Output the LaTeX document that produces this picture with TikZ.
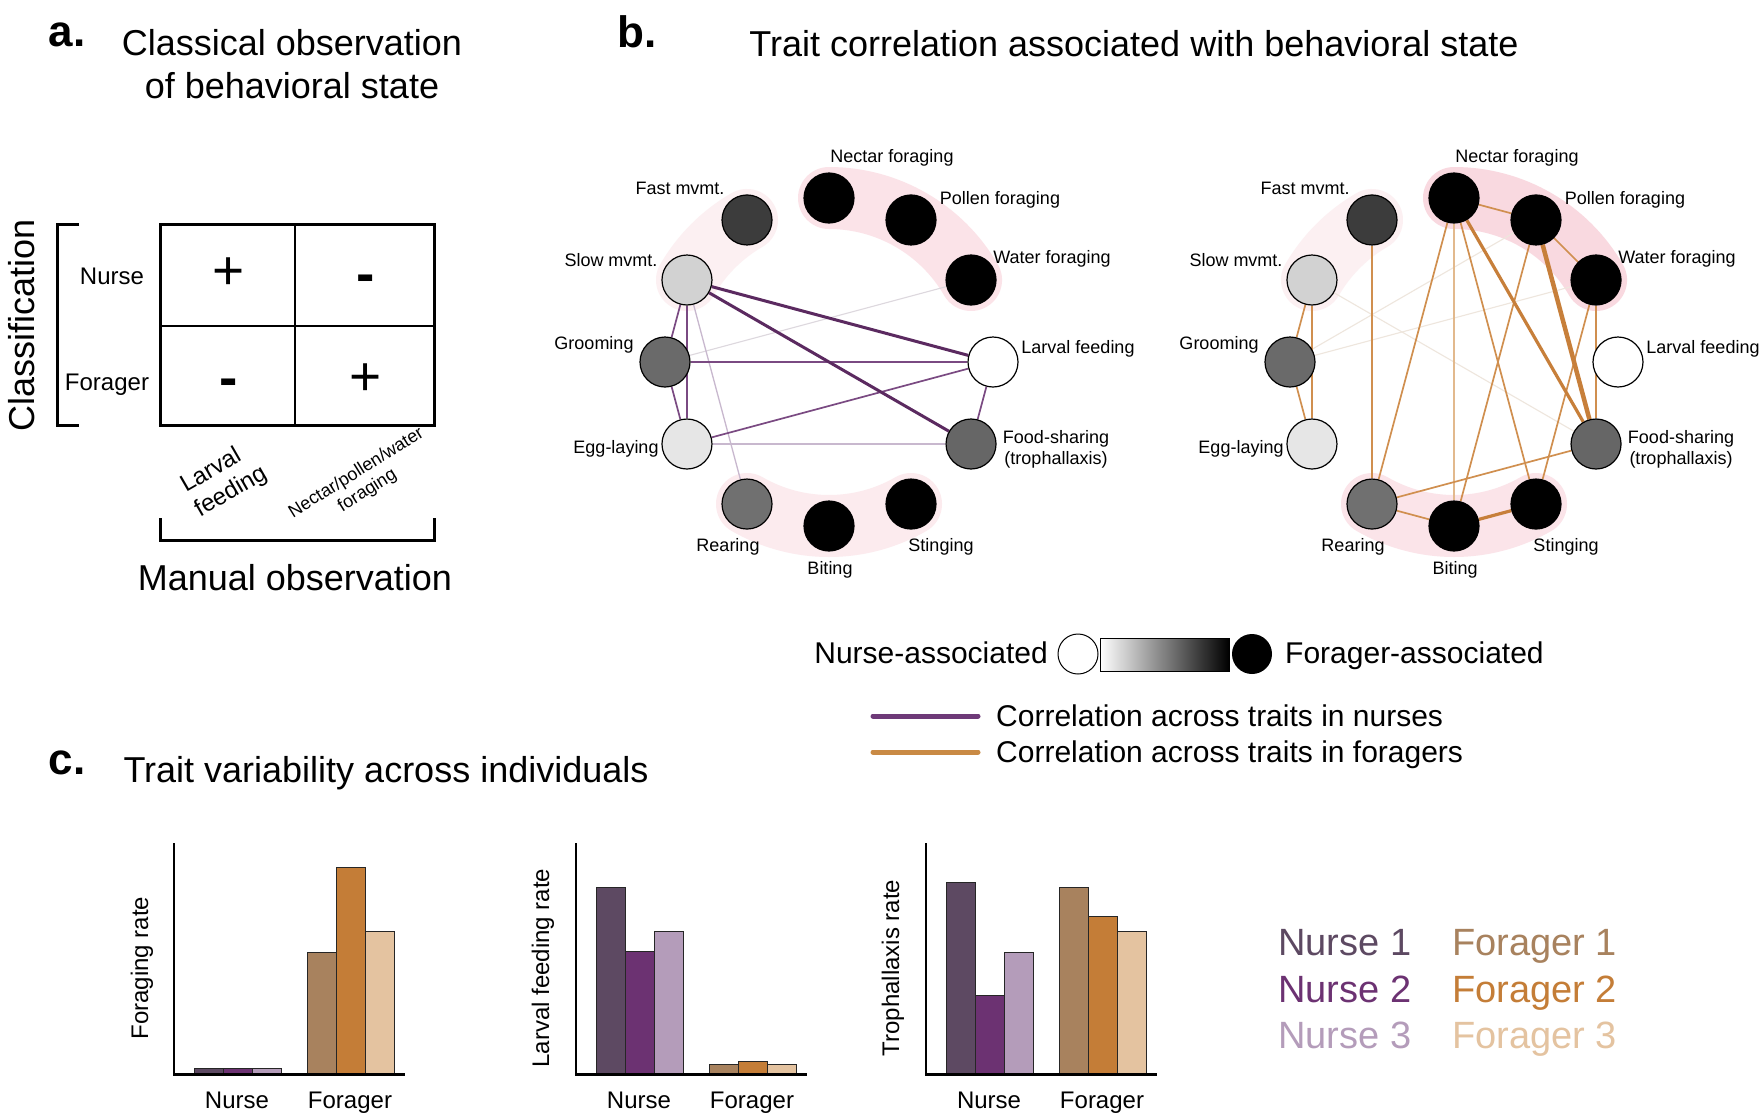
\documentclass[tikz,border=0pt]{standalone}
\usepackage{fontspec}
\setmainfont{Liberation Sans}
\definecolor{bandFL}{HTML}{FBE3E8}
\definecolor{bandFR}{HTML}{F9D9E0}
\definecolor{bandM}{HTML}{FCF0F2}
\definecolor{bandAL}{HTML}{FCEBEE}
\definecolor{bandAR}{HTML}{FBE4E9}
\definecolor{purpThick}{HTML}{5B2A60}
\definecolor{purpMed}{HTML}{7A4A82}
\definecolor{purpThin}{HTML}{C8B8CE}
\definecolor{purpFaint}{HTML}{DDD8DE}
\definecolor{orMain}{HTML}{C77F3A}
\definecolor{orMed}{HTML}{D08F4F}
\definecolor{orThin}{HTML}{E2B98D}
\definecolor{orFaint}{HTML}{EEE6DD}
\definecolor{legPurp}{HTML}{6E3A78}
\definecolor{legOr}{HTML}{C98A45}
\definecolor{nurseA}{HTML}{5D4962}
\definecolor{nurseB}{HTML}{6C3272}
\definecolor{nurseC}{HTML}{B49CBA}
\definecolor{forA}{HTML}{A8825E}
\definecolor{forB}{HTML}{C47D37}
\definecolor{forC}{HTML}{E4C3A0}
\definecolor{gFast}{HTML}{3C3C3C}
\definecolor{gSlow}{HTML}{D2D2D2}
\definecolor{gGroom}{HTML}{6A6A6A}
\definecolor{gEgg}{HTML}{E6E6E6}
\definecolor{gFood}{HTML}{666666}
\definecolor{gRear}{HTML}{707070}
\newcommand{\myTitle}{\fontsize{36}{43}\selectfont}
\newcommand{\myLegC}{\fontsize{38}{45}\selectfont}
\newcommand{\myPanel}{\fontsize{44}{44}\selectfont\bfseries}
\newcommand{\myLab}{\fontsize{18}{21}\selectfont}
\newcommand{\myMid}{\fontsize{24}{28}\selectfont}
\newcommand{\myLeg}{\fontsize{30}{36}\selectfont}
\newcommand{\mySym}{\fontsize{55}{55}\selectfont}
\pgfdeclarelayer{bandlayer}
\pgfdeclarelayer{edgelayer}
\pgfsetlayers{bandlayer,edgelayer,main}
\tikzset{
  trait/.style={circle, draw=black, line width=1.2pt, minimum size=50pt, inner sep=0pt},
  lab/.style={inner sep=0pt, anchor=base, font=\myLab},
  band/.style={line width=62pt, line cap=round},
  pthick/.style={purpThick, line width=3pt},
  pmed/.style={purpMed, line width=1.7pt},
  pthin/.style={purpThin, line width=1.3pt},
  pfaint/.style={purpFaint, line width=1.1pt},
  othickest/.style={orMain, line width=4.5pt},
  othick/.style={orMain, line width=3.2pt},
  omed/.style={orMed, line width=1.7pt},
  othin/.style={orThin, line width=1.3pt},
  ofaint/.style={orFaint, line width=1.1pt},
  bar/.style={draw=black!85, line width=0.9pt},
  txt/.style={inner sep=0pt}
}
\newcommand{\myNet}[3]{%
  \node[trait,fill=black] (#1nectar) at (270:164) {};
  \node[trait,fill=black] (#1pollen) at (300:164) {};
  \node[trait,fill=black] (#1water) at (330:164) {};
  \node[trait,fill=white] (#1larval) at (0:164) {};
  \node[trait,fill=gFood] (#1food) at (30:164) {};
  \node[trait,fill=black] (#1sting) at (60:164) {};
  \node[trait,fill=black] (#1bite) at (90:164) {};
  \node[trait,fill=gRear] (#1rear) at (120:164) {};
  \node[trait,fill=gEgg] (#1egg) at (150:164) {};
  \node[trait,fill=gGroom] (#1groom) at (180:164) {};
  \node[trait,fill=gSlow] (#1slow) at (210:164) {};
  \node[trait,fill=gFast] (#1fast) at (240:164) {};
  \node[lab] (#1nectarT) at (63,-200) {Nectar foraging};
  \node[lab] (#1fastT) at (-149,-168) {Fast mvmt.};
  \node[lab] (#1pollenT) at (171,-158) {Pollen foraging};
  \node[lab] (#1waterT) at (223,-99) {Water foraging};
  \node[lab] (#1slowT) at (-218,-96) {Slow mvmt.};
  \node[lab] (#1groomT) at (-235,-13) {Grooming};
  \node[lab] (#1larvalT) at (249,-9) {Larval feeding};
  \node[lab] (#1eggT) at (-213,91) {Egg-laying};
  \node[txt, font=\myLab, align=center] (#1foodT) at (227,87) {Food-sharing\\(trophallaxis)};
  \node[lab] (#1rearT) at (-101,189) {Rearing};
  \node[lab] (#1biteT) at (1,212) {Biting};
  \node[lab] (#1stingT) at (112,189) {Stinging};
  \begin{pgfonlayer}{bandlayer}
    \draw[band, #2] (270:164) arc[start angle=270, end angle=330, radius=164];
    \draw[band, bandM] (210:164) arc[start angle=210, end angle=240, radius=164];
    \draw[band, #3] (60:164) arc[start angle=60, end angle=120, radius=164];
  \end{pgfonlayer}
}
\newcommand{\myBar}[3]{\draw[bar, fill=#3] (#1,#2) rectangle ({#1+29},1074);}
\begin{document}
\begin{tikzpicture}[x=1pt,y=-1pt]
\useasboundingbox (0,0) rectangle (1764,1119);
\begin{pgfonlayer}{bandlayer}
\fill[white] (0,0) rectangle (1764,1119);
\end{pgfonlayer}

% ---------------- panel a
\node[txt, font=\myPanel, anchor=base] (pa) at (67,46) {a.};
\node[txt, font=\myTitle, anchor=base] (ta1) at (292,55) {Classical observation};
\node[txt, font=\myTitle, anchor=base] (ta2) at (292,98) {of behavioral state};
\draw[line width=3pt] (160,224) rectangle (434,425);
\draw[line width=1.5pt] (295,224) -- (295,425);
\draw[line width=1.5pt] (160,326) -- (434,326);
\draw[line width=3pt] (79,224) -- (57,224) -- (57,425) -- (79,425);
\draw[line width=3pt] (160,518) -- (160,540) -- (434,540) -- (434,518);
\node[txt, font=\myTitle, rotate=90] (classT) at (22,325) {Classification};
\node[txt, font=\myMid, anchor=base] (nurseRow) at (112,284) {Nurse};
\node[txt, font=\myMid, anchor=base] (foragerRow) at (107,390) {Forager};
\node[txt, font=\mySym] (s11) at (229,274) {+};
\node[txt, font=\mySym\bfseries, anchor=base] (s12) at (366,292) {-};
\node[txt, font=\mySym\bfseries, anchor=base] (s21) at (229,396) {-};
\node[txt, font=\mySym] (s22) at (366,380) {+};
\node[txt, font=\myMid, rotate=30, align=left] (colA) at (224,480) {Larval\\feeding};
\node[txt, font=\myLab, rotate=32, align=center] (colB) at (362,482) {Nectar/pollen/water\\foraging};
\node[txt, font=\myTitle, anchor=base] (manT) at (295,590) {Manual observation};

% ---------------- panel b
\node[txt, font=\myPanel, anchor=base] (pb) at (637,47) {b.};
\node[txt, font=\myTitle, anchor=base] (tb) at (1134,56) {Trait correlation associated with behavioral state};

\begin{scope}[shift={(829,362)}]
  \myNet{L}{bandFL}{bandAL}
\end{scope}
\begin{scope}[shift={(1454,362)}]
  \myNet{R}{bandFR}{bandAR}
\end{scope}

\begin{pgfonlayer}{edgelayer}
  \draw[pfaint] (Lgroom) -- (Lwater);
  \draw[pthin] (Legg) -- (Lfood);
  \draw[pthin] (Lslow) -- (Lrear);
  \draw[pmed] (Lslow) -- (Lgroom);
  \draw[pmed] (Lslow) -- (Legg);
  \draw[pmed] (Lgroom) -- (Legg);
  \draw[pmed] (Lgroom) -- (Llarval);
  \draw[pmed] (Legg) -- (Llarval);
  \draw[pmed] (Llarval) -- (Lfood);
  \draw[pthick] (Lslow) -- (Llarval);
  \draw[pthick] (Lslow) -- (Lfood);

  \draw[ofaint] (Rslow) -- (Rfood);
  \draw[ofaint] (Rgroom) -- (Rpollen);
  \draw[ofaint] (Rgroom) -- (Rwater);
  \draw[omed] (Rfast) -- (Rrear);
  \draw[omed] (Rslow) -- (Rgroom);
  \draw[omed] (Rslow) -- (Regg);
  \draw[omed] (Rgroom) -- (Regg);
  \draw[omed] (Rnectar) -- (Rpollen);
  \draw[omed] (Rpollen) -- (Rwater);
  \draw[omed] (Rnectar) -- (Rrear);
  \draw[othin] (Rnectar) -- (Rbite);
  \draw[omed] (Rnectar) -- (Rsting);
  \draw[omed] (Rpollen) -- (Rbite);
  \draw[omed] (Rwater) -- (Rfood);
  \draw[omed] (Rwater) -- (Rsting);
  \draw[omed] (Rfood) -- (Rrear);
  \draw[omed] (Rrear) -- (Rbite);
  \draw[othick] (Rnectar) -- (Rfood);
  \draw[othickest] (Rpollen) -- (Rfood);
  \draw[othick] (Rbite) -- (Rsting);
\end{pgfonlayer}

% legend of panel b
\node[txt, font=\myLeg, anchor=base east] (nurseAssoc) at (1048,663) {Nurse-associated};
\node[circle, draw=black, line width=1pt, fill=white, minimum size=40pt, inner sep=0pt] (nurseDot) at (1078,654) {};
\node[draw=black, line width=1pt, left color=white, right color=black, minimum width=129pt, minimum height=33pt, inner sep=0pt] (gradBar) at (1164.5,655) {};
\node[circle, fill=black, minimum size=40pt, inner sep=0pt] (foragerDot) at (1252,654) {};
\node[txt, font=\myLeg, anchor=base west] (foragerAssoc) at (1285,663) {Forager-associated};
\coordinate (lpA) at (873,716);
\coordinate (lpB) at (978,716);
\coordinate (loA) at (873,752);
\coordinate (loB) at (978,752);
\draw[legPurp, line width=5pt, line cap=round] (lpA) -- (lpB);
\draw[legOr, line width=5pt, line cap=round] (loA) -- (loB);
\node[txt, font=\myLeg, anchor=base west] (corrN) at (996,726) {Correlation across traits in nurses};
\node[txt, font=\myLeg, anchor=base west] (corrF) at (996,762) {Correlation across traits in foragers};

% ---------------- panel c
\node[txt, font=\myPanel, anchor=base] (pc) at (67,774) {c.};
\node[txt, font=\myTitle, anchor=base] (tc) at (386,782) {Trait variability across individuals};

\begin{scope}[shift={(174,0)}]
  \myBar{20}{1068}{nurseA}
  \myBar{49}{1068}{nurseB}
  \myBar{78}{1068}{nurseC}
  \myBar{133}{952}{forA}
  \myBar{162}{867}{forB}
  \myBar{191}{931}{forC}
  \draw[line width=2pt] (0,843) -- (0,1074);
  \draw[line width=3pt] (-1,1074) -- (231,1074);
  \node[txt, font=\myMid, rotate=90] (yl1) at (-32,968) {Foraging rate};
  \node[txt, font=\myMid, anchor=base] (n1) at (63,1108) {Nurse};
  \node[txt, font=\myMid, anchor=base] (f1) at (176,1108) {Forager};
\end{scope}

\begin{scope}[shift={(576,0)}]
  \myBar{20}{887}{nurseA}
  \myBar{49}{951}{nurseB}
  \myBar{78}{931}{nurseC}
  \myBar{133}{1064}{forA}
  \myBar{162}{1061}{forB}
  \myBar{191}{1064}{forC}
  \draw[line width=2pt] (0,843) -- (0,1074);
  \draw[line width=3pt] (-1,1074) -- (231,1074);
  \node[txt, font=\myMid, rotate=90] (yl2) at (-33,968) {Larval feeding rate};
  \node[txt, font=\myMid, anchor=base] (n2) at (63,1108) {Nurse};
  \node[txt, font=\myMid, anchor=base] (f2) at (176,1108) {Forager};
\end{scope}

\begin{scope}[shift={(926,0)}]
  \myBar{20}{882}{nurseA}
  \myBar{49}{995}{nurseB}
  \myBar{78}{952}{nurseC}
  \myBar{133}{887}{forA}
  \myBar{162}{916}{forB}
  \myBar{191}{931}{forC}
  \draw[line width=2pt] (0,843) -- (0,1074);
  \draw[line width=3pt] (-1,1074) -- (231,1074);
  \node[txt, font=\myMid, rotate=90] (yl3) at (-33,968) {Trophallaxis rate};
  \node[txt, font=\myMid, anchor=base] (n3) at (63,1108) {Nurse};
  \node[txt, font=\myMid, anchor=base] (f3) at (176,1108) {Forager};
\end{scope}

% legend of panel c
\node[txt, font=\myLegC, anchor=base west, text=nurseA] (lgN1) at (1278,955) {Nurse 1};
\node[txt, font=\myLegC, anchor=base west, text=nurseB] (lgN2) at (1278,1002) {Nurse 2};
\node[txt, font=\myLegC, anchor=base west, text=nurseC] (lgN3) at (1278,1048) {Nurse 3};
\node[txt, font=\myLegC, anchor=base west, text=forA] (lgF1) at (1452,955) {Forager 1};
\node[txt, font=\myLegC, anchor=base west, text=forB] (lgF2) at (1452,1002) {Forager 2};
\node[txt, font=\myLegC, anchor=base west, text=forC] (lgF3) at (1452,1048) {Forager 3};
\end{tikzpicture}
\end{document}
